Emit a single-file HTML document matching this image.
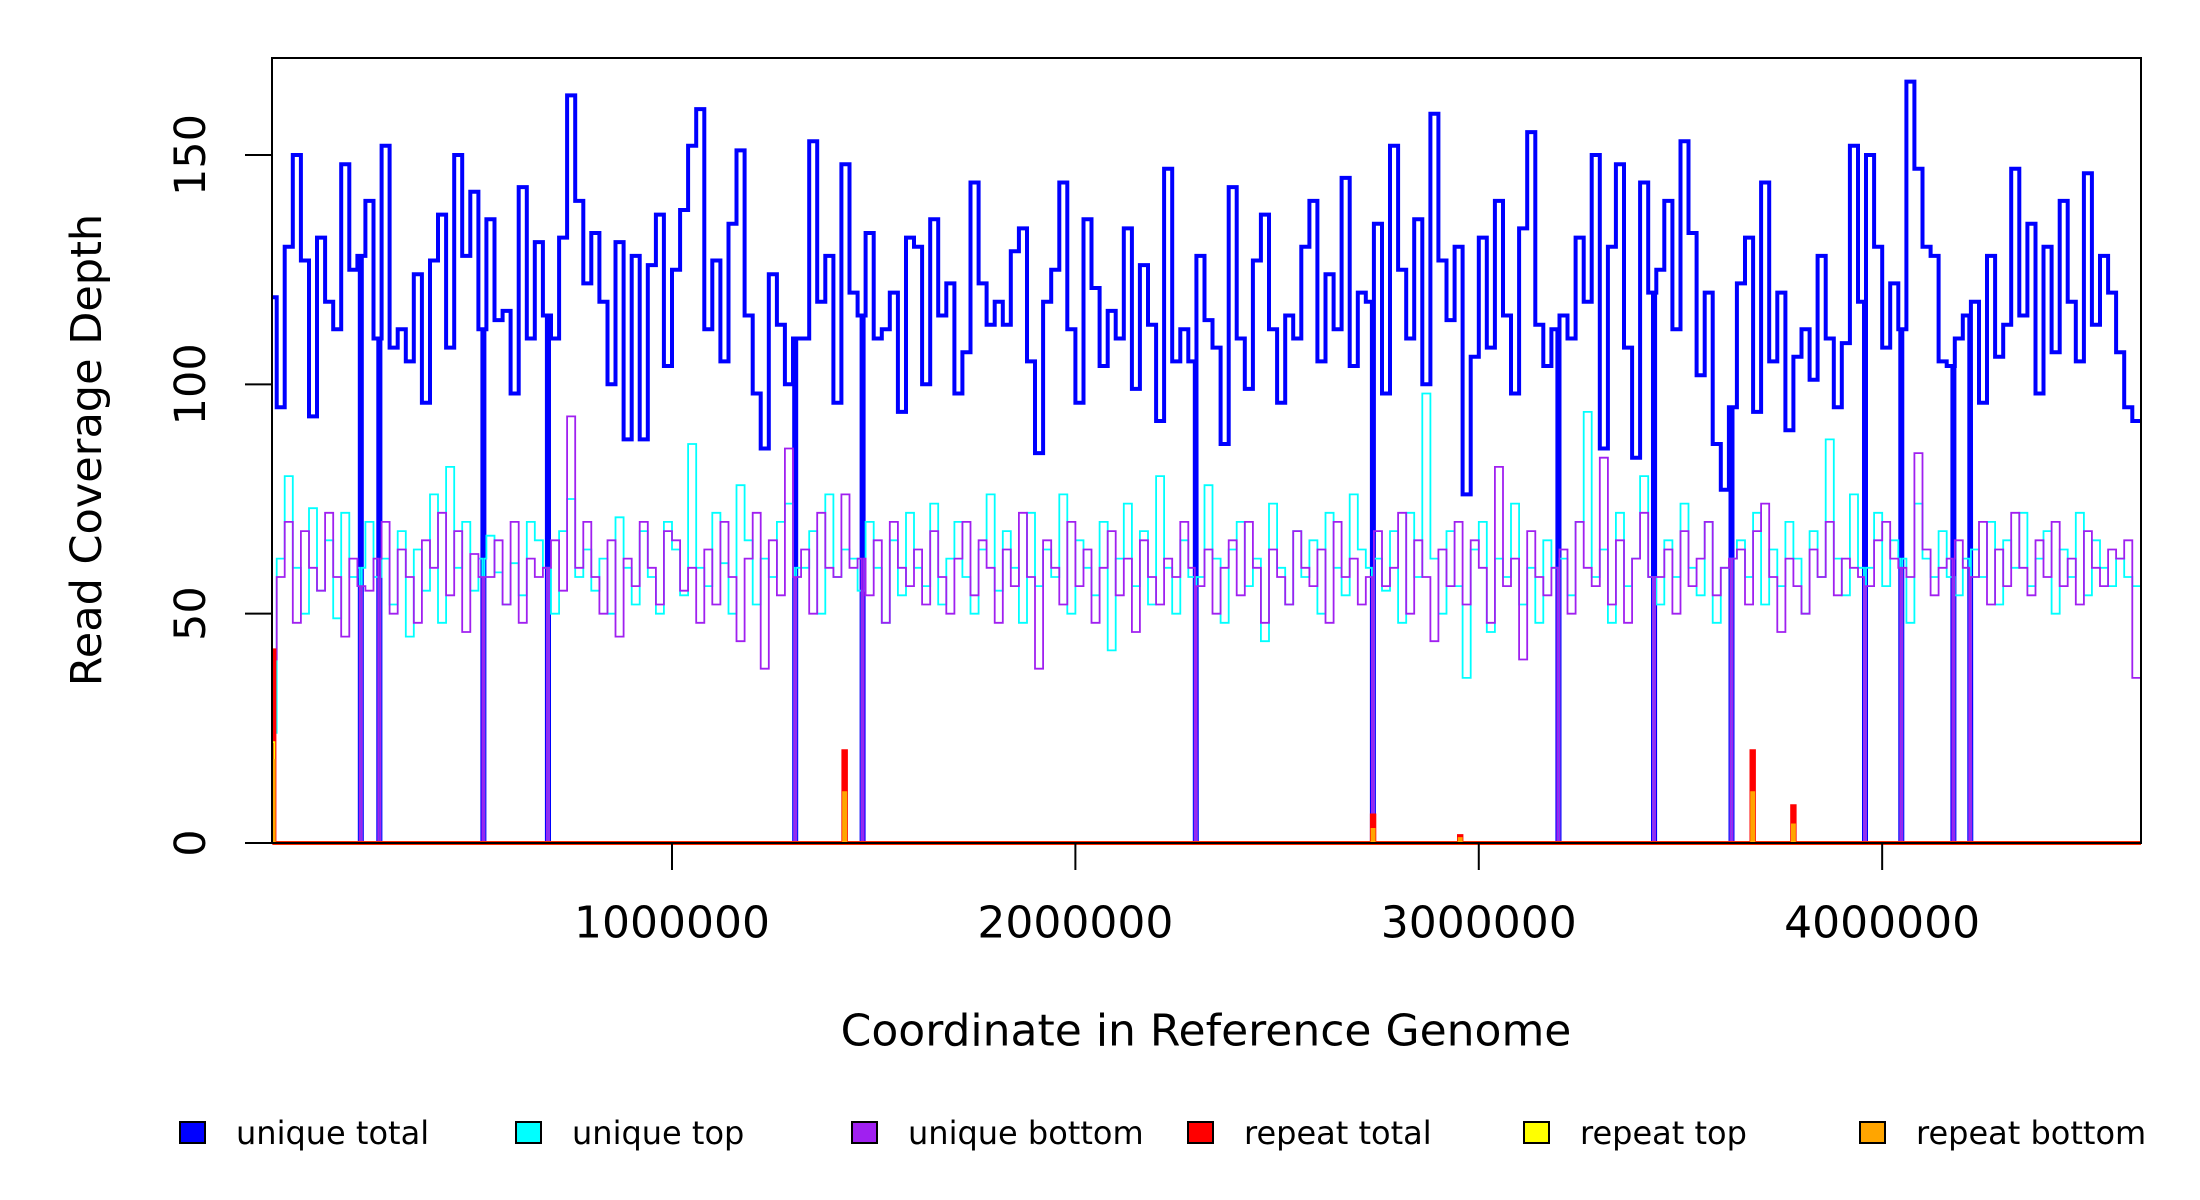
<!DOCTYPE html>
<html><head><meta charset="utf-8"><style>
html,body{margin:0;padding:0;background:#fff;}
svg{display:block;font-family:"DejaVu Sans","Liberation Sans",sans-serif;}
</style></head><body>
<svg id="chart" width="2200" height="1200" viewBox="0 0 2200 1200" xmlns="http://www.w3.org/2000/svg">
<defs><clipPath id="plotclip"><rect x="272" y="58" width="1869" height="790"/></clipPath></defs>
<rect x="0" y="0" width="2200" height="1200" fill="#fff"/>
<g id="series" clip-path="url(#plotclip)"></g>
<rect x="272" y="58" width="1869" height="785" fill="none" stroke="#000" stroke-width="2"/>
<g id="axes"></g>
<text x="87" y="450" font-size="43" text-anchor="middle" dominant-baseline="central" transform="rotate(-90 87 450)">Read Coverage Depth</text>
<text x="1206" y="1031" font-size="44" text-anchor="middle" dominant-baseline="central">Coordinate in Reference Genome</text>
<g id="legend"></g>
</svg>
<script>
const binSize = 20000;
const genomeStart = 8400;
const genomeEnd = 4641652;
const yTicks = [0, 50, 100, 150];
const xTicks = [1000000, 2000000, 3000000, 4000000];
const xTickLabels = ["1000000", "2000000", "3000000", "4000000"];
const seriesNames = ["unique total", "unique top", "unique bottom", "repeat total", "repeat top", "repeat bottom"];
const seriesColors = ["#0000ff", "#00ffff", "#a020f0", "#ff0000", "#ffff00", "#ffa500"];
const uniqueTotal = [119,95,130,150,127,93,132,118,112,148,
125,128,140,110,152,108,112,105,124,96,
127,137,108,150,128,142,112,136,114,116,
98,143,110,131,115,110,132,163,140,122,
133,118,100,131,88,128,88,126,137,104,
125,138,152,160,112,127,105,135,151,115,
98,86,124,113,100,110,110,153,118,128,
96,148,120,115,133,110,112,120,94,132,
130,100,136,115,122,98,107,144,122,113,
118,113,129,134,105,85,118,125,144,112,
96,136,121,104,116,110,134,99,126,113,
92,147,105,112,105,128,114,108,87,143,
110,99,127,137,112,96,115,110,130,140,
105,124,112,145,104,120,118,135,98,152,
125,110,136,100,159,127,114,130,76,106,
132,108,140,115,98,134,155,113,104,112,
115,110,132,118,150,86,130,148,108,84,
144,120,125,140,112,153,133,102,120,87,
77,95,122,132,94,144,105,120,90,106,
112,101,128,110,95,109,152,118,150,130,
108,122,112,166,147,130,128,105,104,110,
115,118,96,128,106,113,147,115,135,98,
130,107,140,118,105,146,113,128,120,107,
95,92];
const uniqueTop = [24,62,80,60,50,73,55,66,49,72,
58,60,70,58,62,52,68,45,64,55,
76,48,82,60,70,55,62,67,59,52,
61,54,70,66,60,50,68,75,58,64,
55,62,50,71,60,52,68,58,50,70,
64,54,87,60,56,72,61,50,78,66,
52,62,58,70,74,60,60,68,50,76,
58,64,62,55,70,60,48,66,54,72,
60,56,74,52,62,70,58,50,64,76,
55,68,60,48,72,56,64,58,76,50,
66,60,54,70,42,62,74,56,68,52,
80,60,50,66,58,58,78,62,48,64,
70,56,62,44,74,60,52,68,58,66,
50,72,60,54,76,64,60,62,55,68,
48,72,58,98,62,50,68,56,36,64,
70,46,62,58,74,52,60,48,66,60,
62,54,70,94,58,64,48,72,56,62,
80,58,52,66,58,74,60,54,70,48,
60,62,66,58,72,52,64,56,70,62,
50,68,58,88,62,54,76,60,60,72,
56,66,62,48,74,62,58,68,58,54,
62,64,58,70,52,66,60,72,56,62,
68,50,64,58,72,54,66,60,56,62,
58,56];
const uniqueBottom = [40,58,70,48,68,60,55,72,58,45,
62,56,55,62,70,50,64,58,48,66,
60,72,54,68,46,63,58,58,66,52,
70,48,62,58,60,66,55,93,60,70,
58,50,66,45,62,56,70,60,52,68,
66,55,60,48,64,52,70,58,44,62,
72,38,66,54,86,58,64,50,72,60,
58,76,60,62,54,66,48,70,60,56,
64,52,68,58,50,62,70,54,66,60,
48,64,56,72,58,38,66,60,52,70,
56,64,48,60,68,54,62,46,66,58,
52,62,58,70,60,56,64,50,60,66,
54,70,60,48,64,58,52,68,60,56,
64,48,70,58,62,52,58,68,56,60,
72,50,66,58,44,64,56,70,52,66,
60,48,82,56,62,40,68,58,54,60,
64,50,70,60,56,84,52,66,48,62,
72,58,58,64,50,68,56,62,70,54,
60,62,64,52,68,74,58,46,62,56,
50,64,58,70,54,62,60,58,56,66,
70,62,60,58,85,64,54,60,62,66,
60,58,70,52,64,56,72,60,54,66,
58,70,56,62,52,68,60,56,64,62,
66,36];
const dropoutPos = [226000, 272000, 530000, 690000, 1303000, 1470000, 2296000, 2735000, 3195000, 3432000, 3624000, 3955000, 4045000, 4174000, 4216000];
const dropoutWidth = 5000;
const repeatPos = [8400, 1425000, 2735000, 2951000, 3676000, 3777000];
const repeatTotal = [42, 20, 6, 1.5, 20, 8];
const repeatTop = [22, 10, 3, 0.5, 9, 3];
const repeatBottom = [18, 11, 3, 1, 11, 4];
const repeatWidth = 6000;

const NS = "http://www.w3.org/2000/svg";
const X0 = 272, X1 = 2141, Y0 = 843, Y150 = 155;
function xs(v){ return X0 + (v - genomeStart) / (genomeEnd - genomeStart) * (X1 - X0); }
function ys(v){ return Y0 - v * (Y0 - Y150) / 150; }

function stepPath(vals){
  const segs = [];
  for (let i = 0; i < vals.length; i++){
    let a = Math.max(genomeStart, i * binSize);
    const b = Math.min(genomeEnd, (i + 1) * binSize);
    dropoutPos.forEach(p => {
      if (p >= a && p < b){
        segs.push([a, p, vals[i]]);
        segs.push([p, p + dropoutWidth, 0]);
        a = p + dropoutWidth;
      }
    });
    if (a < b) segs.push([a, b, vals[i]]);
  }
  let d = "";
  segs.forEach((s, k) => {
    const y = ys(s[2]).toFixed(1);
    d += (k === 0 ? "M" : "L") + xs(s[0]).toFixed(1) + "," + y + "L" + xs(s[1]).toFixed(1) + "," + y;
  });
  return d;
}
function spikePath(vals){
  let d = "M" + xs(genomeStart) + "," + ys(0);
  for (let i = 0; i < repeatPos.length; i++){
    const a = xs(repeatPos[i]), b = xs(repeatPos[i] + repeatWidth);
    d += "L" + a.toFixed(1) + "," + ys(0) + "L" + a.toFixed(1) + "," + ys(vals[i]).toFixed(1) + "L" + b.toFixed(1) + "," + ys(vals[i]).toFixed(1) + "L" + b.toFixed(1) + "," + ys(0);
  }
  d += "L" + xs(genomeEnd) + "," + ys(0);
  return d;
}
const g = document.getElementById("series");
function addPath(d, color, w, name){
  const p = document.createElementNS(NS, "path");
  p.setAttribute("d", d);
  p.setAttribute("fill", "none");
  p.setAttribute("stroke", color);
  p.setAttribute("stroke-width", w);
  
  
  g.appendChild(p);
}
addPath(stepPath(uniqueTotal), seriesColors[0], 4, "unique-total-line");
addPath(stepPath(uniqueTop), seriesColors[1], 1.8, "unique-top-line");
addPath(stepPath(uniqueBottom), seriesColors[2], 1.8, "unique-bottom-line");
addPath(spikePath(repeatTotal), seriesColors[3], 4, "repeat-total-line");
addPath(spikePath(repeatTop), seriesColors[4], 1.8, "repeat-top-line");
addPath(spikePath(repeatBottom), seriesColors[5], 2.5, "repeat-bottom-line");

const ax = document.getElementById("axes");
yTicks.forEach(t => {
  const y = ys(t);
  const l = document.createElementNS(NS, "line");
  l.setAttribute("x1", 245); l.setAttribute("x2", 272);
  l.setAttribute("y1", y); l.setAttribute("y2", y);
  l.setAttribute("stroke", "#000"); l.setAttribute("stroke-width", 2);
  
  
  ax.appendChild(l);
  const tx = document.createElementNS(NS, "text");
  tx.setAttribute("x", 191); tx.setAttribute("y", y);
  tx.setAttribute("font-size", 43);
  tx.setAttribute("text-anchor", "middle");
  tx.setAttribute("dominant-baseline", "central");
  tx.setAttribute("transform", "rotate(-90 191 " + y + ")");
  tx.textContent = String(t);
  
  
  ax.appendChild(tx);
});
xTicks.forEach((t, i) => {
  const x = xs(t);
  const l = document.createElementNS(NS, "line");
  l.setAttribute("x1", x); l.setAttribute("x2", x);
  l.setAttribute("y1", 843); l.setAttribute("y2", 870);
  l.setAttribute("stroke", "#000"); l.setAttribute("stroke-width", 2);
  
  
  ax.appendChild(l);
  const tx = document.createElementNS(NS, "text");
  tx.setAttribute("x", x); tx.setAttribute("y", 923);
  tx.setAttribute("font-size", 44);
  tx.setAttribute("text-anchor", "middle");
  tx.setAttribute("dominant-baseline", "central");
  tx.textContent = xTickLabels[i];
  
  
  ax.appendChild(tx);
});

const lg = document.getElementById("legend");
seriesNames.forEach((n, i) => {
  const x = 180 + i * 336;
  const r = document.createElementNS(NS, "rect");
  r.setAttribute("x", x); r.setAttribute("y", 1122);
  r.setAttribute("width", 25); r.setAttribute("height", 21);
  r.setAttribute("fill", seriesColors[i]);
  r.setAttribute("stroke", "#000"); r.setAttribute("stroke-width", 2);
  
  
  lg.appendChild(r);
  const tx = document.createElementNS(NS, "text");
  tx.setAttribute("x", x + 56); tx.setAttribute("y", 1133);
  tx.setAttribute("font-size", 32);
  tx.setAttribute("dominant-baseline", "central");
  tx.textContent = n;
  
  
  lg.appendChild(tx);
});
</script>
</body></html>
